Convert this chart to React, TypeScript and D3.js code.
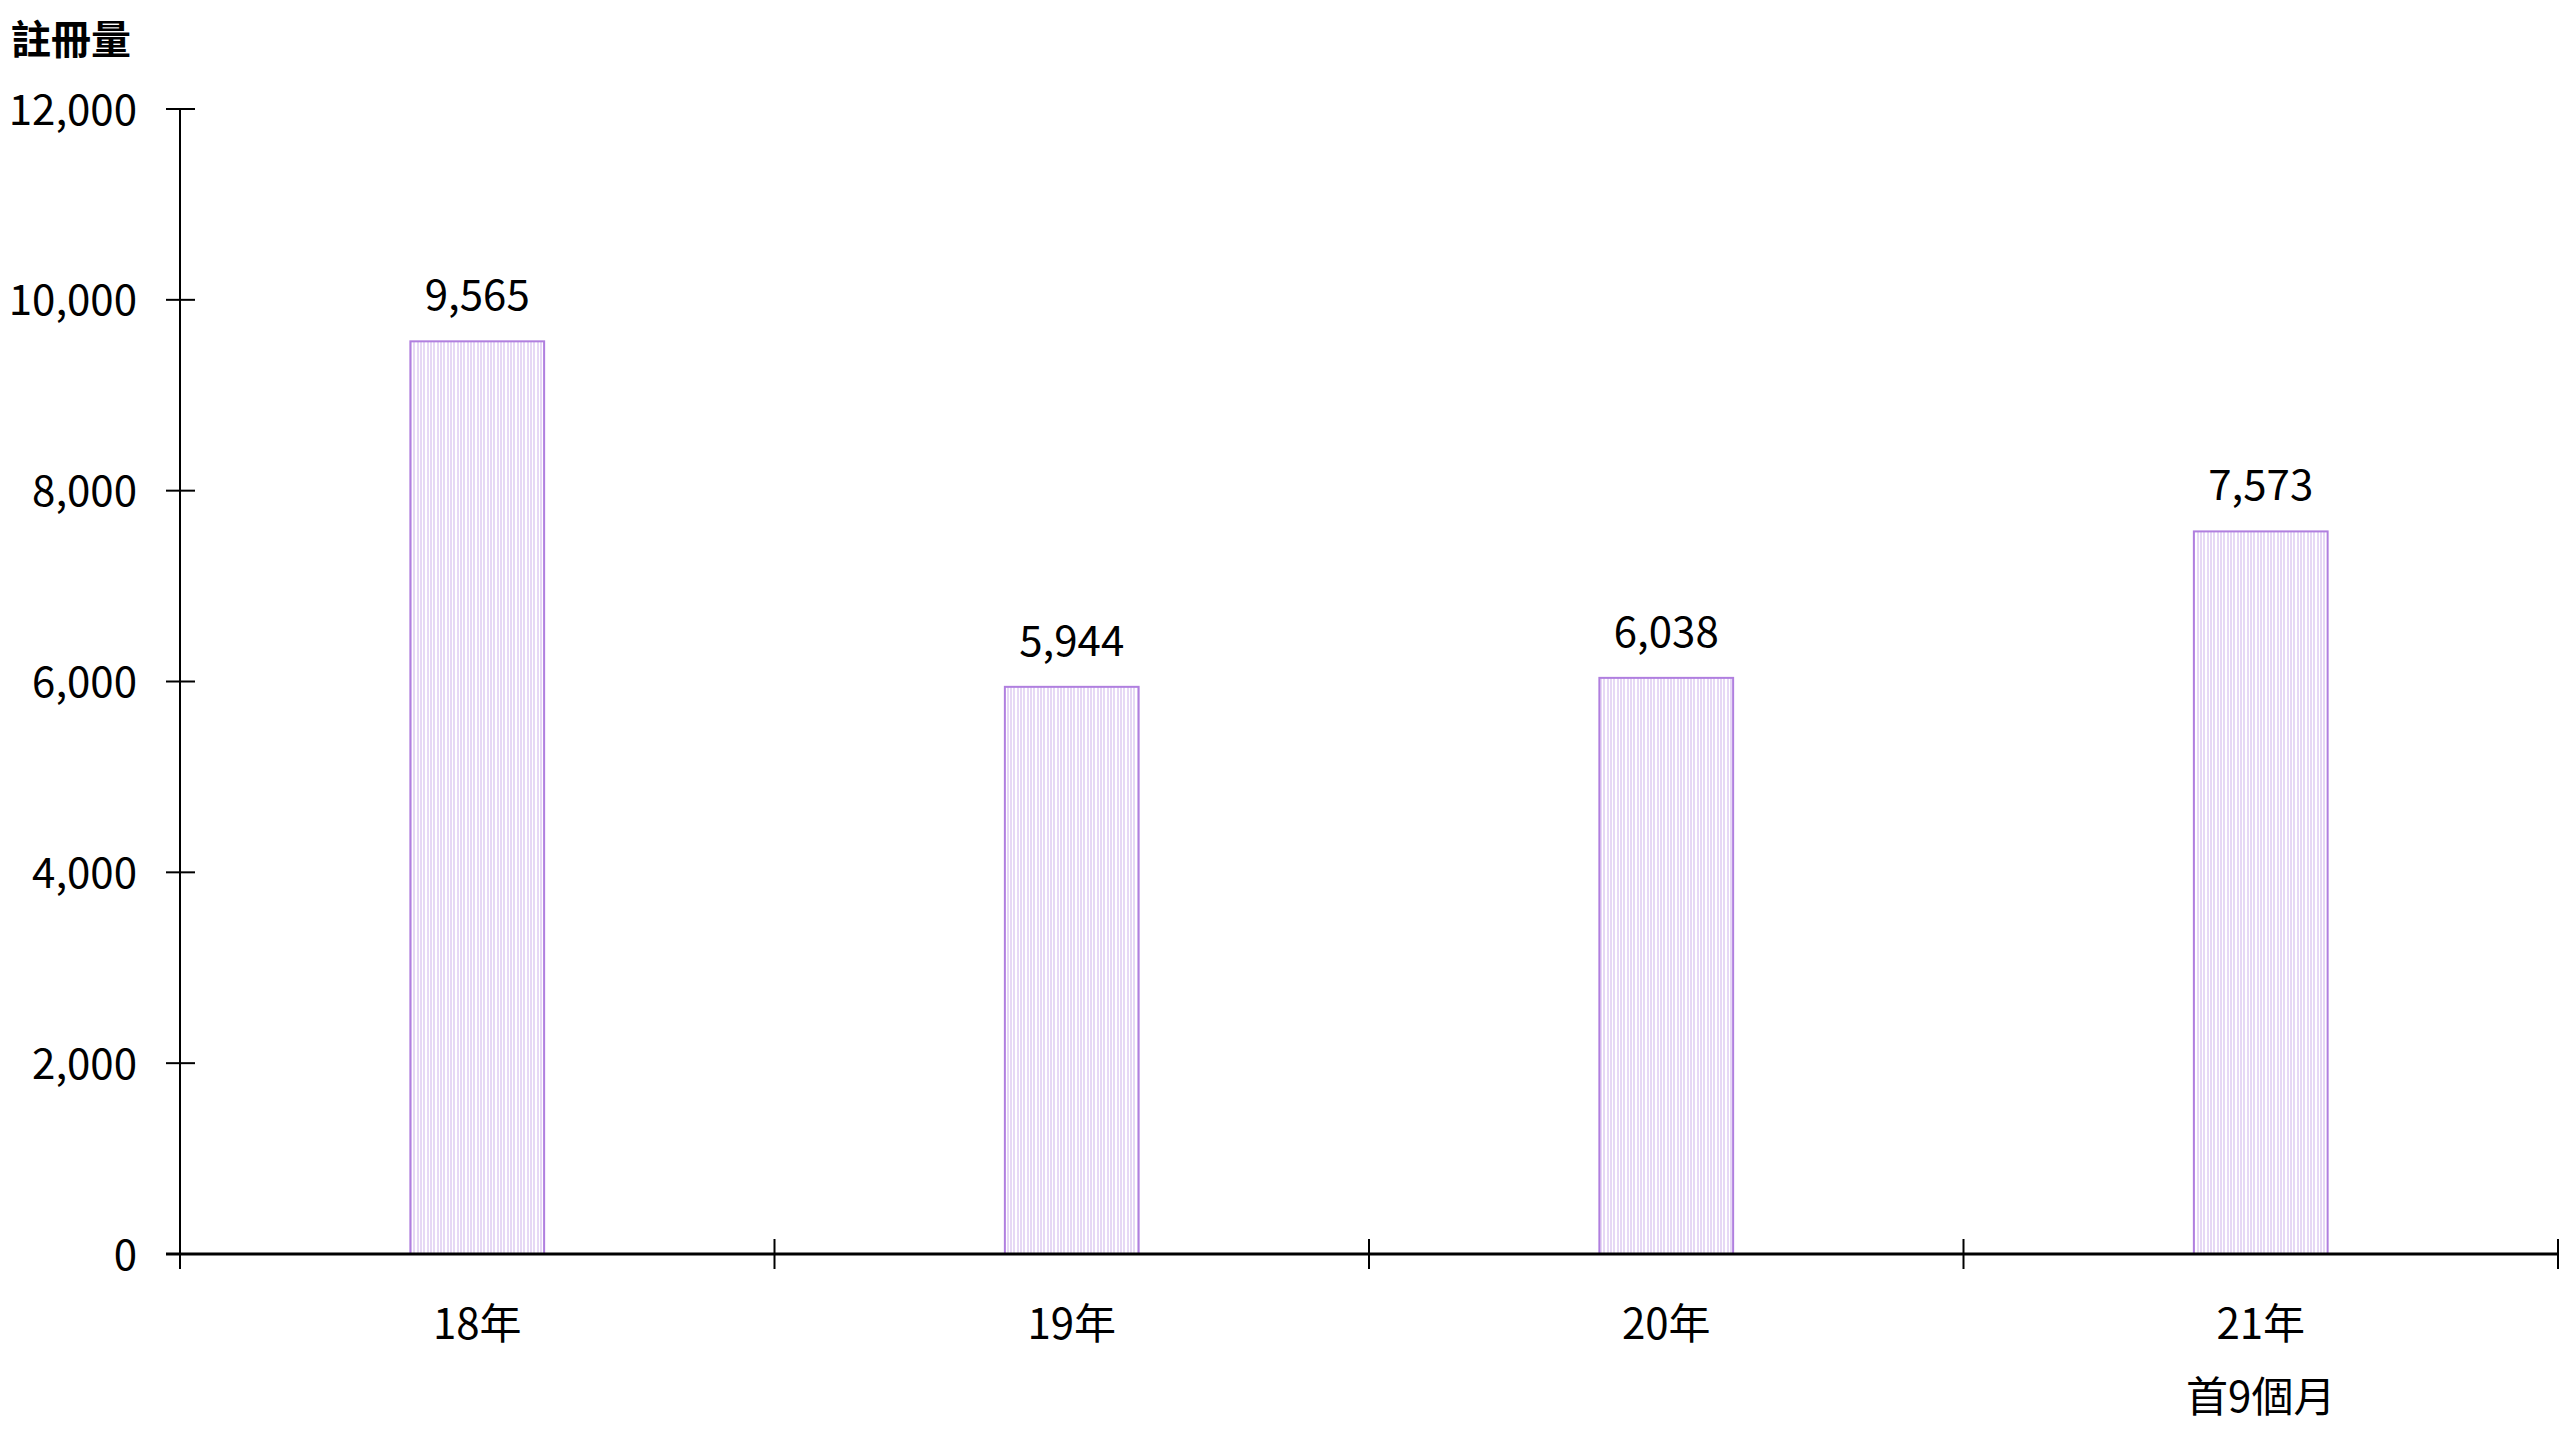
import React from "react";
import * as d3 from "d3";

const categories = ["18年", "19年", "20年", "21年"];
const subLabels = ["", "", "", "首9個月"];
const values = [9565, 5944, 6038, 7573];
const yTicks = [0, 2000, 4000, 6000, 8000, 10000, 12000];
const yTitle = "註冊量";

const W = 2560;
const H = 1440;
const FONT = "'Noto Sans CJK TC', 'Noto Sans', sans-serif";

export default function App() {
  const x0 = 180;
  const x1 = 2558;
  const yTop = 109;
  const yBot = 1254;

  const x = d3.scaleBand<string>().domain(categories).range([x0, x1]).padding(0);
  const y = d3.scaleLinear().domain([0, 12000]).range([yBot, yTop]);
  const bw = x.bandwidth() * 0.225;
  const fmt = d3.format(",");

  const boundaries = [...categories.map((c) => x(c)!), x1];

  return (
    <svg
      width={W}
      height={H}
      style={{ position: "absolute", left: 0, top: 0, background: "#fff" }}
      fontFamily={FONT}
    >
      <defs>
        <pattern id="stripes" patternUnits="userSpaceOnUse" width={10} height={10}>
          <rect x={0} y={0} width={10} height={10} fill="#ffffff" />
          <rect x={0} y={0} width={2} height={10} fill="#e6d8f5" />
          <rect x={3} y={0} width={2} height={10} fill="#e6d8f5" />
          <rect x={7} y={0} width={2} height={10} fill="#e6d8f5" />
        </pattern>
      </defs>

      {/* title */}
      <text x={11} y={54} fontSize={40} fontWeight="bold" fill="#000">
        {yTitle}
      </text>

      {/* bars */}
      {values.map((v, i) => {
        const cx = x(categories[i])! + x.bandwidth() / 2;
        return (
          <g key={i}>
            <rect
              x={cx - bw / 2}
              y={y(v)}
              width={bw}
              height={yBot - y(v)}
              fill="url(#stripes)"
              stroke="#b07fdf"
              strokeWidth={2}
            />
            <text
              x={cx}
              y={y(v) - 31}
              textAnchor="middle"
              fontSize={42}
              fill="#000"
            >
              {fmt(v)}
            </text>
          </g>
        );
      })}

      {/* y axis */}
      <line x1={x0} x2={x0} y1={yTop} y2={yBot + 14} stroke="#000" strokeWidth={2} />
      {yTicks.map((t) => (
        <g key={t}>
          <line x1={x0 - 14} x2={x0 + 15} y1={y(t)} y2={y(t)} stroke="#000" strokeWidth={2} />
          <text
            x={137}
            y={y(t) - 3}
            textAnchor="end"
            dominantBaseline="central"
            fontSize={42}
            fill="#000"
          >
            {fmt(t)}
          </text>
        </g>
      ))}

      {/* x axis */}
      <line x1={x0 - 14} x2={x1} y1={yBot} y2={yBot} stroke="#000" strokeWidth={3} />
      {boundaries.map((bx, i) => (
        <line key={i} x1={bx} x2={bx} y1={yBot - 15} y2={yBot + 15} stroke="#000" strokeWidth={2} />
      ))}
      {categories.map((c, i) => {
        const cx = x(c)! + x.bandwidth() / 2;
        return (
          <g key={c}>
            <text x={cx} y={1320} textAnchor="middle" dominantBaseline="central" fontSize={42} fill="#000">
              {c}
            </text>
            {subLabels[i] && (
              <text x={cx} y={1393} textAnchor="middle" dominantBaseline="central" fontSize={42} fill="#000">
                {subLabels[i]}
              </text>
            )}
          </g>
        );
      })}
    </svg>
  );
}
